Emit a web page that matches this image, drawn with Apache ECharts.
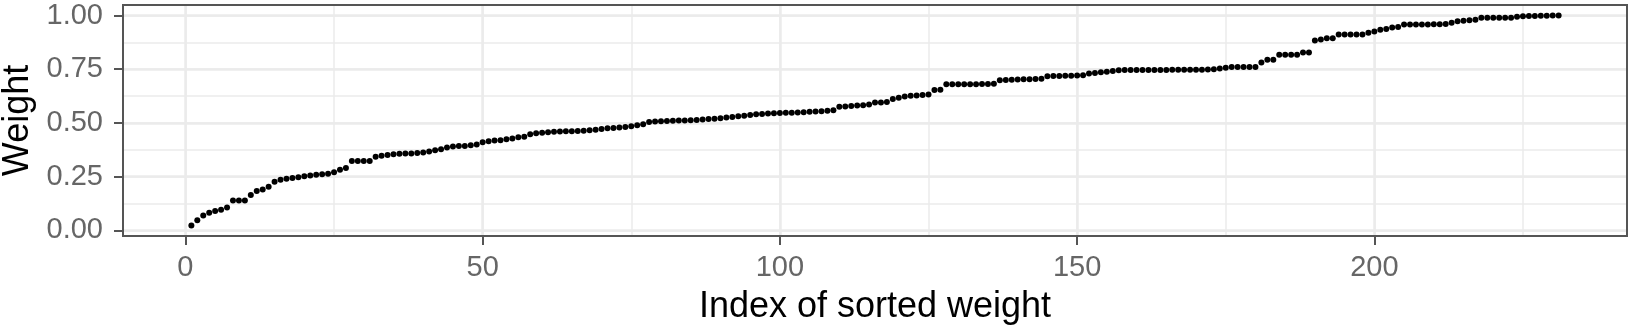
<!DOCTYPE html>
<html>
<head>
<meta charset="utf-8">
<script src="https://cdn.jsdelivr.net/npm/echarts@6/dist/echarts.min.js"></script>
<style>
html,body{margin:0;padding:0;background:#fff;}
#chart{width:1631px;height:334px;}
</style>
</head>
<body>
<div id="chart"></div>
<script>
// Sorted weights (index 1..231)
const weights = [
  0.023,0.047,0.070,0.082,0.091,0.096,0.107,0.139,0.139,0.139,
  0.165,0.183,0.190,0.203,0.226,0.236,0.241,0.244,0.247,0.252,
  0.256,0.259,0.261,0.264,0.271,0.282,0.291,0.323,0.323,0.323,
  0.323,0.343,0.348,0.351,0.354,0.357,0.358,0.358,0.360,0.363,
  0.367,0.373,0.378,0.386,0.390,0.393,0.393,0.396,0.400,0.410,
  0.415,0.418,0.420,0.424,0.428,0.433,0.436,0.447,0.452,0.455,
  0.457,0.459,0.460,0.461,0.462,0.463,0.464,0.466,0.468,0.472,
  0.475,0.477,0.479,0.481,0.485,0.489,0.494,0.505,0.507,0.508,
  0.509,0.510,0.511,0.512,0.513,0.514,0.516,0.518,0.520,0.522,
  0.525,0.528,0.531,0.534,0.537,0.540,0.542,0.544,0.545,0.546,
  0.547,0.548,0.549,0.550,0.552,0.553,0.555,0.557,0.559,0.575,
  0.577,0.579,0.581,0.583,0.586,0.595,0.595,0.598,0.611,0.617,
  0.623,0.627,0.628,0.630,0.633,0.653,0.655,0.680,0.680,0.680,
  0.680,0.680,0.680,0.681,0.681,0.682,0.699,0.700,0.701,0.702,
  0.703,0.703,0.704,0.706,0.717,0.718,0.719,0.720,0.720,0.721,
  0.722,0.730,0.733,0.736,0.738,0.742,0.745,0.746,0.747,0.747,
  0.747,0.747,0.747,0.747,0.747,0.748,0.748,0.748,0.748,0.748,
  0.748,0.749,0.750,0.753,0.757,0.760,0.760,0.760,0.760,0.760,
  0.781,0.794,0.794,0.817,0.817,0.817,0.817,0.828,0.828,0.884,
  0.888,0.894,0.894,0.912,0.912,0.912,0.912,0.912,0.920,0.925,
  0.934,0.937,0.944,0.947,0.958,0.958,0.958,0.958,0.958,0.959,
  0.959,0.960,0.966,0.973,0.976,0.978,0.980,0.989,0.989,0.989,
  0.989,0.989,0.990,0.994,0.997,0.998,0.998,0.999,0.999,1.000,
  1.000
];
const xTicks = [0, 50, 100, 150, 200];
const yTicks = [0, 0.25, 0.5, 0.75, 1.0];
const xTitle = 'Index of sorted weight';
const yTitle = 'Weight';

const points = weights.map((w, i) => [i + 1, w]);

// ggplot-style 5% expansion
const n = weights.length;
const xPad = 0.05 * (n - 1);
const xMin = 1 - xPad, xMax = n + xPad;
const wMin = Math.min(...weights), wMax = Math.max(...weights);
const yPad = 0.05 * (wMax - wMin);
const yMin = wMin - yPad, yMax = wMax + yPad;

const FONT = 'Liberation Sans, Arial, Helvetica, sans-serif';
const GRID = '#ebebeb';
const TXT = '#666666';
const LINE = '#555555';

const chart = echarts.init(document.getElementById('chart'), null, {renderer: 'canvas'});
chart.setOption({
  animation: false,
  backgroundColor: '#fff',
  grid: {
    left: 123, top: 5, width: 1504, height: 231,
    outerBoundsMode: 'none', containLabel: false,
    show: true, z: 10, backgroundColor: 'transparent',
    borderColor: LINE, borderWidth: 2
  },
  xAxis: [
    { // minor grid
      type: 'value', position: 'bottom', min: xMin, max: xMax, minInterval: 25, maxInterval: 25,
      axisLine: {show: false, onZero: false}, axisTick: {show: false}, axisLabel: {show: false},
      splitLine: {show: true, lineStyle: {color: GRID, width: 1.5}}
    },
    { // major
      type: 'value', position: 'bottom', min: xMin, max: xMax, minInterval: 50, maxInterval: 50,
      axisLine: {show: false, onZero: false},
      axisTick: {show: true, inside: false, length: 9, customValues: xTicks, lineStyle: {color: LINE, width: 2}},
      axisLabel: {show: true, customValues: xTicks, margin: 17, color: TXT, fontSize: 29, fontFamily: FONT,
        formatter: v => String(v)},
      splitLine: {show: true, lineStyle: {color: GRID, width: 2.5}},
      name: xTitle, nameLocation: 'middle', nameGap: 53,
      nameTextStyle: {color: '#000', fontSize: 36, fontFamily: FONT}
    }
  ],
  yAxis: [
    {
      type: 'value', position: 'left', min: yMin, max: yMax, minInterval: 0.125, maxInterval: 0.125,
      axisLine: {show: false, onZero: false}, axisTick: {show: false}, axisLabel: {show: false},
      splitLine: {show: true, lineStyle: {color: GRID, width: 1.5}}
    },
    {
      type: 'value', position: 'left', min: yMin, max: yMax, minInterval: 0.25, maxInterval: 0.25,
      axisLine: {show: false, onZero: false},
      axisTick: {show: true, inside: false, length: 9, customValues: yTicks, lineStyle: {color: LINE, width: 2}},
      axisLabel: {show: true, customValues: yTicks, margin: 20, color: TXT, fontSize: 29, fontFamily: FONT,
        formatter: v => v.toFixed(2)},
      splitLine: {show: true, lineStyle: {color: GRID, width: 2.5}},
      name: yTitle, nameLocation: 'middle', nameGap: 82, nameRotate: 90,
      nameTextStyle: {color: '#000', fontSize: 36, fontFamily: FONT}
    }
  ],
  series: [{
    type: 'scatter',
    xAxisIndex: 1, yAxisIndex: 1,
    data: points,
    symbol: 'circle', symbolSize: 6,
    itemStyle: {color: '#000', opacity: 1},
    z: 3
  }]
});
</script>
</body>
</html>
